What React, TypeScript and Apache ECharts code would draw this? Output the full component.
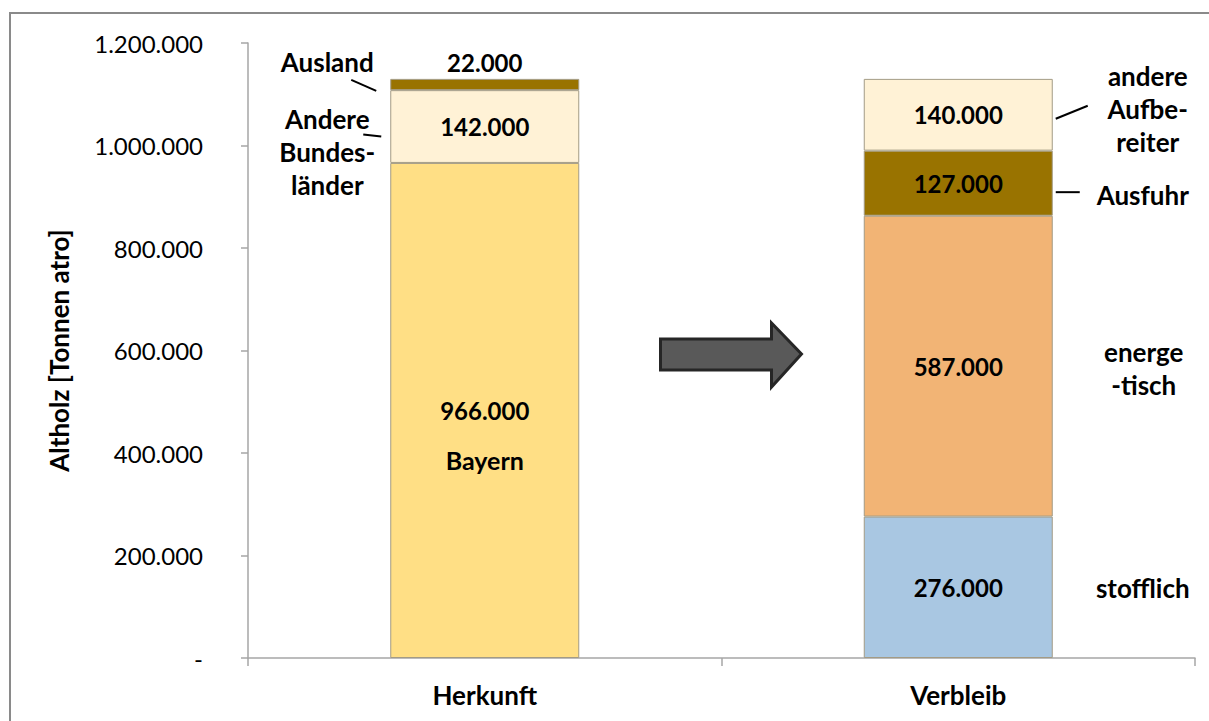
import React, { useEffect, useRef } from "react";
import * as echarts from "echarts";

const categories = ["Herkunft", "Verbleib"];
const herkunftNames = ["Bayern", "Andere Bundesländer", "Ausland"];
const herkunftValues = [966000, 142000, 22000];
const verbleibNames = ["stofflich", "energetisch", "Ausfuhr", "andere Aufbereiter"];
const verbleibValues = [276000, 587000, 127000, 140000];
const herkunftColors = ["#FFDF85", "#FFF2D6", "#997300"];
const verbleibColors = ["#A9C7E2", "#F2B475", "#997300", "#FFF2D6"];
const yMin = 0;
const yMax = 1200000;
const yInterval = 200000;
const axisTitle = "Altholz [Tonnen atro]";

const FONT = "Lato, 'Open Sans', sans-serif";
const NUM_SIZE = 24;
const WORD_SIZE = 26;
const fmt = (v: number) => String(v).replace(/\B(?=(\d{3})+(?!\d))/g, ".");

export default function App() {
  const ref = useRef<HTMLDivElement>(null);
  useEffect(() => {
    if (!ref.current) return;
    const chart = echarts.init(ref.current, null, { renderer: "svg" });
    const barW = 189;
    const labelBase = { color: "#000", fontFamily: FONT, fontWeight: "bold" as const, fontSize: NUM_SIZE };

    const series: any[] = [];
    herkunftValues.forEach((v, i) => {
      let label: any = { show: true, position: "inside", ...labelBase, formatter: (p: any) => fmt(p.value) };
      if (i === 0) {
        label = {
          ...label,
          offset: [0, 25],
          formatter: (p: any) => "{n|" + fmt(p.value) + "}\n{w|" + herkunftNames[0] + "}",
          rich: {
            n: { fontFamily: FONT, fontWeight: "bold", fontSize: NUM_SIZE, lineHeight: 50, color: "#000" },
            w: { fontFamily: FONT, fontWeight: "bold", fontSize: WORD_SIZE - 1, lineHeight: 50, color: "#000" },
          },
        };
      } else if (i === 2) {
        label = { ...label, position: "top", distance: 4 };
      }
      series.push({
        name: herkunftNames[i],
        type: "bar",
        stack: "total",
        barWidth: barW,
        data: [v, null],
        itemStyle: { color: herkunftColors[i], borderColor: "#A39B85", borderWidth: 1 },
        label,
      });
    });
    verbleibValues.forEach((v, i) => {
      series.push({
        name: verbleibNames[i],
        type: "bar",
        stack: "total",
        barWidth: barW,
        data: [null, v],
        itemStyle: { color: verbleibColors[i], borderColor: "#A39B85", borderWidth: 1 },
        label: { show: true, position: "inside", ...labelBase, formatter: (p: any) => fmt(p.value) },
      });
    });

    chart.setOption({
      animation: false,
      backgroundColor: "#fff",
      grid: { left: 248, right: 14, top: 43, bottom: 63, containLabel: false },
      xAxis: {
        type: "category",
        data: categories,
        axisLine: { show: true, lineStyle: { color: "#A6A6A6", width: 1.5 } },
        axisTick: { show: true, length: 8, lineStyle: { color: "#A6A6A6", width: 1.5 } },
        axisLabel: { margin: 24, color: "#000", fontFamily: FONT, fontWeight: "bold", fontSize: WORD_SIZE },
      },
      yAxis: {
        type: "value",
        min: yMin,
        max: yMax,
        interval: yInterval,
        name: axisTitle,
        nameLocation: "middle",
        nameRotate: 90,
        nameGap: 176,
        nameTextStyle: { color: "#000", fontFamily: FONT, fontWeight: "bold", fontSize: WORD_SIZE },
        axisLine: { show: true, lineStyle: { color: "#A6A6A6", width: 1.5 } },
        axisTick: { show: true, length: 7, lineStyle: { color: "#A6A6A6", width: 1.5 } },
        splitLine: { show: false },
        axisLabel: {
          margin: 45,
          color: "#000",
          fontFamily: FONT,
          fontSize: 24,
          formatter: (v: number) => (v === 0 ? "-" : fmt(v)),
        },
      },
      series,
    });

    // annotations anchored to the chart's own scale
    const px = (cat: number, val: number) => chart.convertToPixel({ gridIndex: 0 }, [cat, val]) as number[];
    const hTop = herkunftValues.reduce((a, b) => a + b, 0);
    const [hx, hTopY] = px(0, hTop);
    const hLeft = hx - barW / 2;
    const andereMid = px(0, herkunftValues[0] + herkunftValues[1] / 2)[1];
    const vx = px(1, 0)[0];
    const vRight = vx + barW / 2;
    const vMid = (i: number) => {
      const before = verbleibValues.slice(0, i).reduce((a, b) => a + b, 0);
      return px(1, before + verbleibValues[i] / 2)[1];
    };
    const txt = (x: number, y: number, text: string, lh = 33) => ({
      type: "text",
      x,
      y,
      style: {
        text,
        fill: "#000",
        font: `bold ${WORD_SIZE}px ${FONT}`,
        lineHeight: lh,
        align: "center",
        verticalAlign: "middle",
      },
    });
    const line = (x1: number, y1: number, x2: number, y2: number) => ({
      type: "line",
      shape: { x1, y1, x2, y2 },
      style: { stroke: "#000", lineWidth: 2 },
    });
    const [ax0] = px(0, 0);
    const [ax1] = px(1, 0);
    const arrowMidX = (ax0 + ax1) / 2;
    const arrowY = 354;

    chart.setOption({
      graphic: [
        {
          type: "rect",
          shape: { x: 10, y: 13, width: 1230, height: 740 },
          style: { fill: "none", stroke: "#8A8A8A", lineWidth: 2 },
          silent: true,
        },
        txt(hLeft - 63, hTopY - 17, "Ausland"),
        line(hLeft - 39, hTopY + 1, hLeft - 14, hTopY + 12),
        txt(hLeft - 63, andereMid + 25, "Andere\nBundes-\nländer"),
        line(hLeft - 27, andereMid + 8, hLeft - 9, andereMid + 10),
        txt(vRight + 95, vMid(3) - 6, "andere\nAufbe-\nreiter"),
        line(vRight + 3, vMid(3) + 4, vRight + 35, vMid(3) - 9),
        txt(vRight + 90, vMid(2) + 12, "Ausfuhr"),
        line(vRight + 3, vMid(2) + 9, vRight + 27, vMid(2) + 9),
        txt(vRight + 91, vMid(1) + 2, "energe\n-tisch"),
        txt(vRight + 90, vMid(0) + 1, "stofflich"),
        {
          type: "polygon",
          shape: {
            points: [
              [arrowMidX - 61, arrowY - 15],
              [arrowMidX + 50, arrowY - 15],
              [arrowMidX + 50, arrowY - 31],
              [arrowMidX + 80, arrowY],
              [arrowMidX + 50, arrowY + 33],
              [arrowMidX + 50, arrowY + 16],
              [arrowMidX - 61, arrowY + 16],
            ],
          },
          style: { fill: "#595959", stroke: "#262626", lineWidth: 3, lineJoin: "miter" },
        },
      ],
    });

    return () => chart.dispose();
  }, []);

  return (
    <div
      ref={ref}
      style={{ position: "fixed", left: 0, top: 0, width: 1209, height: 721, background: "#fff" }}
    />
  );
}
